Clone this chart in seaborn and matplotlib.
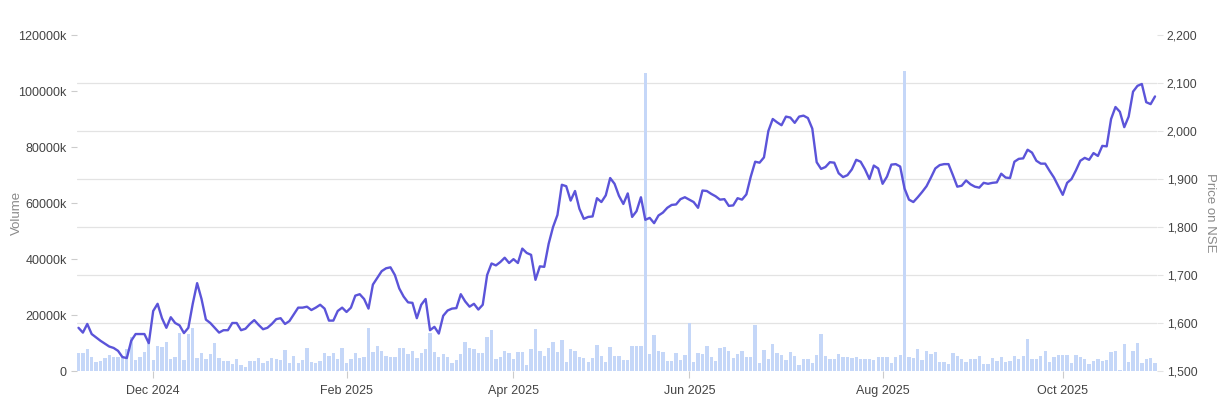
import numpy as np
import pandas as pd
import matplotlib
matplotlib.use("Agg")
import matplotlib.pyplot as plt
from matplotlib.ticker import FuncFormatter, FixedLocator
import seaborn as sns

# ---------------- data ----------------
holidays = ["2024-11-15", "2024-11-20", "2024-12-25", "2025-02-26", "2025-03-14",
            "2025-03-31", "2025-04-10", "2025-04-14", "2025-04-18", "2025-05-01",
            "2025-08-15", "2025-08-27", "2025-10-02", "2025-10-21", "2025-10-22"]
start_date = "2024-11-05"
end_date = "2025-11-04"

price = [
    1590, 1580, 1598, 1577, 1570, 1563, 1557, 1551, 1548, 1542,
    1529, 1527, 1563, 1577, 1577, 1577, 1558, 1625, 1640, 1610,
    1590, 1612, 1600, 1595, 1579, 1590, 1640, 1683, 1650, 1607,
    1600, 1590, 1580, 1585, 1585, 1600, 1600, 1585, 1588, 1598,
    1606, 1596, 1587, 1590, 1598, 1608, 1610, 1598, 1604, 1618,
    1632, 1632, 1634, 1627, 1632, 1638, 1630, 1605, 1605, 1625,
    1632, 1623, 1632, 1657, 1660, 1650, 1630, 1680, 1694, 1708,
    1714, 1716, 1700, 1672, 1655, 1643, 1642, 1610, 1638, 1650,
    1585, 1592, 1578, 1615, 1626, 1630, 1631, 1660, 1645, 1634,
    1640, 1628, 1638, 1700, 1724, 1720, 1727, 1736, 1725, 1733,
    1725, 1755, 1746, 1742, 1690, 1718, 1717, 1765, 1800, 1825,
    1888, 1885, 1855, 1875, 1838, 1817, 1821, 1822, 1860, 1852,
    1866, 1902, 1890, 1865, 1848, 1870, 1821, 1833, 1862, 1815,
    1819, 1808, 1824, 1830, 1840, 1846, 1847, 1858, 1862, 1857,
    1852, 1840, 1876, 1875, 1869, 1864, 1857, 1858, 1844, 1845,
    1860, 1857, 1868, 1905, 1936, 1934, 1945, 2000, 2025, 2018,
    2012, 2030, 2028, 2017, 2030, 2032, 2027, 2005, 1935, 1921,
    1925, 1935, 1934, 1912, 1904, 1908, 1920, 1940, 1936, 1920,
    1900, 1928, 1922, 1890, 1905, 1930, 1931, 1926, 1880, 1857,
    1852, 1862, 1873, 1885, 1903, 1922, 1929, 1931, 1931, 1908,
    1884, 1886, 1897, 1889, 1884, 1882, 1892, 1890, 1892, 1893,
    1911, 1903, 1902, 1936, 1942, 1943, 1961, 1955, 1938, 1932,
    1932, 1917, 1903, 1885, 1867, 1892, 1900, 1918, 1938, 1944,
    1940, 1954, 1948, 1969, 1968, 2025, 2050, 2040, 2008, 2030,
    2082, 2094, 2098, 2060, 2056, 2072,
]

volume_k = [
    6300, 6500, 7700, 5100, 3100, 3600, 4500, 5700, 5100, 4900,
    5400, 7700, 12300, 3900, 4900, 6900, 10800, 3900, 9000, 8700,
    10200, 4200, 4900, 13400, 3900, 13100, 15500, 4500, 6300, 4300,
    6100, 9900, 4500, 3600, 3600, 2500, 4300, 2100, 1300, 3700,
    3700, 4500, 2700, 3700, 4500, 4200, 3900, 7500, 3000, 5400,
    2700, 3900, 8300, 3100, 2700, 3700, 6500, 5400, 6300, 4300,
    8300, 2700, 4200, 6300, 4500, 5100, 15200, 6700, 8900, 7100,
    5400, 5100, 4900, 8100, 8100, 6100, 7300, 4500, 6300, 7700,
    13500, 6900, 5100, 6100, 4900, 2700, 3900, 6100, 10200, 8100,
    7700, 6500, 6300, 12000, 14600, 4300, 4900, 7100, 6500, 4200,
    6900, 6700, 2100, 7900, 14900, 7300, 5400, 8300, 10500, 6900,
    11100, 3300, 7900, 7300, 5100, 4500, 3100, 4500, 9300, 5500,
    3300, 8700, 5500, 5500, 3900, 3900, 9000, 9000, 9000, 106300,
    6100, 12900, 7100, 6900, 3600, 3600, 6500, 3900, 5700, 17000,
    3300, 6300, 6100, 9000, 4900, 3600, 8100, 8700, 7300, 4500,
    6100, 7100, 5100, 4900, 16400, 3000, 7500, 4200, 9600, 6300,
    5600, 3900, 6700, 5400, 2100, 4200, 4200, 3000, 5700, 13100,
    5400, 4200, 4200, 6100, 4900, 4900, 4500, 5100, 4200, 4300,
    4300, 3900, 5100, 5100, 5100, 2700, 5100, 5600, 107200, 5100,
    4500, 7700, 3900, 7300, 6100, 6900, 3300, 3300, 2400, 6300,
    5400, 4200, 3300, 4300, 4300, 5400, 2500, 2500, 4500, 3600,
    4900, 3300, 3600, 5400, 4300, 5400, 11300, 4300, 4300, 5400,
    7300, 3300, 4900, 5700, 5700, 5700, 2700, 5700, 4900, 4200,
    2400, 3600, 4300, 3600, 3900, 6700, 7300, 400, 9600, 3100,
    7100, 9900, 2700, 4300, 4500, 2700,
]

label_months = [12, 2, 4, 6, 8, 10]
volume_ticks = [0, 20000, 40000, 60000, 80000, 100000, 120000]
price_ticks = [1500, 1600, 1700, 1800, 1900, 2000, 2100, 2200]

# ---------------- build frame ----------------
dates = pd.bdate_range(start_date, end_date, freq="C", holidays=holidays)
n = min(len(dates), len(price), len(volume_k))
df = pd.DataFrame({
    "pos": np.arange(n),
    "date": dates[:n],
    "price": price[:n],
    "volume": volume_k[:n],
})

# month-start tick positions
months = df["date"].dt.month.values
tick_pos, tick_lab = [], []
for i in range(1, n):
    if months[i] != months[i - 1] and months[i] in label_months:
        tick_pos.append(i)
        tick_lab.append(df["date"].iloc[i].strftime("%b %Y"))

# ---------------- style ----------------
sns.set_theme(style="white")
plt.rcParams["font.family"] = ["Liberation Sans", "DejaVu Sans"]

W, H = 1219, 403
fig = plt.figure(figsize=(W / 100, H / 100), dpi=100)
left_px, right_px, top_px, bottom_px = 77, 1157, 35, 371
ax = fig.add_axes([left_px / W, 1 - bottom_px / H,
                   (right_px - left_px) / W, (bottom_px - top_px) / H])
ax2 = ax.twinx()

bar_color = "#c5d7f8"
line_color = "#5b54d9"
grid_color = "#e3e3e3"
text_color = "#444444"
title_color = "#8a8a8a"

sns.barplot(data=df, x="pos", y="volume", native_scale=True, color=bar_color,
            saturation=1, width=0.76, linewidth=0, ax=ax, zorder=2)
sns.lineplot(data=df, x="pos", y="price", color=line_color, linewidth=1.7,
             ax=ax2, zorder=3)

vmin, vmax = volume_ticks[0], volume_ticks[-1]
pmin, pmax = price_ticks[0], price_ticks[-1]
ax.set_ylim(vmin, vmax)
ax2.set_ylim(pmin, pmax)
ax.set_xlim(-0.34, 245.45)

# gridlines (follow price axis) drawn on volume axis, behind bars
grid_pos = [vmin + (p - pmin) / (pmax - pmin) * (vmax - vmin) for p in price_ticks]
ax.yaxis.set_minor_locator(FixedLocator(grid_pos))
ax.grid(False)
ax.grid(True, which="minor", axis="y", color=grid_color, linewidth=0.9, zorder=0)
ax.set_axisbelow(True)
ax2.grid(False)

# left axis
ax.yaxis.set_major_locator(FixedLocator(volume_ticks))
ax.yaxis.set_major_formatter(FuncFormatter(lambda v, _: "0" if v == 0 else f"{int(v)}k"))
ax.tick_params(axis="y", which="major", length=4.5, width=0.8, color="#cccccc",
               pad=3, labelsize=9, labelcolor=text_color, left=True)
ax.tick_params(axis="y", which="minor", length=0)

# right axis
ax2.yaxis.set_major_locator(FixedLocator(price_ticks))
ax2.yaxis.set_major_formatter(FuncFormatter(lambda v, _: f"{int(v):,}"))
ax2.tick_params(axis="y", length=4, width=0.8, color=grid_color, pad=3,
                labelsize=8.8, labelcolor=text_color, right=True)

# x axis
ax.xaxis.set_major_locator(FixedLocator(tick_pos))
ax.set_xticklabels(tick_lab)
ax.tick_params(axis="x", length=5, width=0.8, color="#cccccc", pad=5,
               labelsize=9, labelcolor=text_color, bottom=True)
ax2.tick_params(axis="x", length=0)

ax.set_xlabel("")
ax2.set_xlabel("")
ax.set_ylabel("Volume", color=title_color, fontsize=9.5)
ax.yaxis.set_label_coords(-0.0505, 0.47)
ax2.set_ylabel("Price on NSE", color=title_color, fontsize=9.5, rotation=270,
               va="center")
ax2.yaxis.set_label_coords(1.0495, 0.47)

for a in (ax, ax2):
    for s in a.spines.values():
        s.set_visible(False)

fig.savefig("out.png", dpi=100)
